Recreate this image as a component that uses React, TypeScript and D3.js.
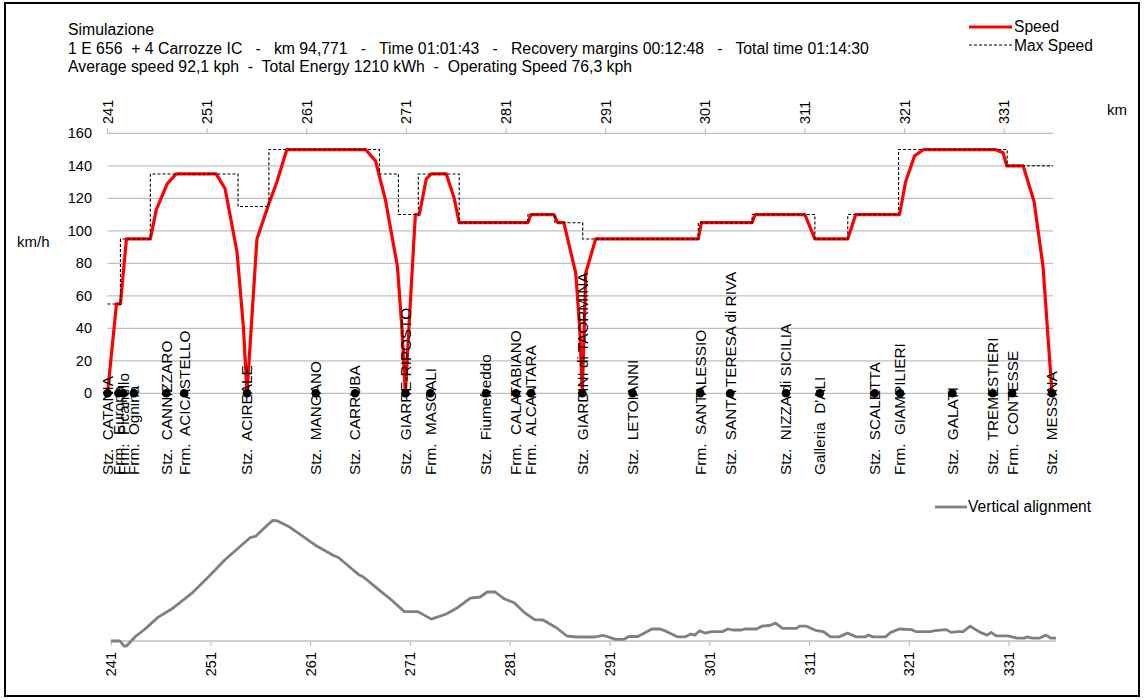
import React from "react";
import * as d3 from "d3";

// ---------- DATA ----------
const titleLines = [
  "Simulazione",
  "1 E 656  + 4 Carrozze IC   -   km 94,771   -   Time 01:01:43   -   Recovery margins 00:12:48   -   Total time 01:14:30",
  "Average speed 92,1 kph  -  Total Energy 1210 kWh  -  Operating Speed 76,3 kph",
];

const kmTicks = [241, 251, 261, 271, 281, 291, 301, 311, 321, 331];
const speedTicks = [0, 20, 40, 60, 80, 100, 120, 140, 160];

// Speed profile (km, km/h)
const speedKm = [
  241.0, 241.9, 242.3, 242.9, 245.3, 245.9, 247.0, 247.9, 251.9, 252.8, 254.0, 254.65, 255.0, 256.0,
  257.1, 258.0, 259.0, 266.9, 267.9, 268.9, 270.1, 270.55, 270.9, 271.25, 271.9, 272.3, 273.0, 273.5,
  275.0, 275.8, 276.3, 283.2, 283.5, 285.8, 286.2, 286.8, 288.0, 288.4, 288.65, 288.85, 289.0, 290.0,
  300.3, 300.6, 305.7, 306.0, 311.0, 312.0, 315.3, 316.1, 320.5, 321.1, 322.0, 322.9, 330.1, 330.9,
  331.25, 332.9, 334.0, 334.9, 335.8,
];
const speedVal = [
  0, 55, 55, 95, 95, 113, 129, 135, 135, 126, 87, 40, 0, 95,
  115, 130, 150, 150, 143, 119, 78, 40, 0, 40, 110, 110, 132, 135,
  135, 120, 105, 105, 110, 110, 105, 105, 74, 40, 0, 40, 74, 95,
  95, 105, 105, 110, 110, 95, 95, 110, 110, 130, 146, 150, 150, 148,
  140, 140, 118, 78, 0,
];

// Max speed (step changes at these km)
const maxSpeedKm = [
  241.0, 242.3, 245.3, 254.1, 257.2, 268.3, 270.2, 272.2, 276.3, 283.2, 285.9, 288.7, 300.3, 305.7,
  312.0, 315.3, 320.4, 331.3, 335.9,
];
const maxSpeedVal = [55, 95, 135, 115, 150, 135, 110, 135, 105, 110, 105, 95, 105, 110, 95, 110, 150, 140, 140];

// Stations
const stationNames = [
  "Stz.  CATANIA", "Frm.  Europa", "Frm.  Picanello", "Frm.  Ognina", "Stz.  CANNIZZARO",
  "Frm.  ACICASTELLO", "Stz.  ACIREALE", "Stz.  MANGANO", "Stz.  CARRUBA", "Stz.  GIARRE-RIPOSTO",
  "Frm.  MASCALI", "Stz.  Fiumefreddo", "Frm.  CALATABIANO", "Frm.  ALCANTARA",
  "Stz.  GIARDINI di TAORMINA", "Stz.  LETOIANNI", "Frm.  SANTALESSIO", "Stz.  SANTA TERESA di RIVA",
  "Stz.  NIZZA di SICILIA", "Galleria  D'ALI", "Stz.  SCALETTA", "Frm.  GIAMPILIERI", "Stz.  GALATI",
  "Stz.  TREMESTIERI", "Frm.  CONTESSE", "Stz.  MESSINA",
];
const stationKm = [
  241.0, 242.1, 242.6, 243.65, 246.9, 248.7, 255.0, 261.9, 265.85, 270.9, 273.4, 279.0, 282.0, 283.5,
  288.65, 293.7, 300.5, 303.5, 309.1, 312.5, 318.0, 320.55, 325.8, 329.85, 331.8, 335.8,
];

// Vertical alignment (km, relative height)
const elevKm = [
  241.0, 241.9, 242.3, 242.55, 243.5, 244.3, 245.7, 247.2, 249.05, 250.75, 252.4, 254.1, 255.0, 255.5,
  256.2, 257.2, 257.7, 258.9, 260.2, 261.4, 262.1, 263.3, 263.8, 265.0, 265.8, 266.3, 267.7, 269.05,
  270.4, 271.75, 273.1, 274.6, 275.8, 277.0, 278.0, 278.7, 279.5, 280.4, 281.4, 282.4, 283.45, 284.3,
  285.6, 286.7, 287.7, 289.5, 290.3, 290.7, 291.55, 292.4, 292.9, 293.8, 295.2, 296.0, 296.5, 297.8,
  298.5, 299.1, 299.5, 300.0, 300.5, 301.2, 302.25, 302.8, 303.3, 304.15, 304.5, 305.7, 306.2, 307.0,
  307.6, 308.3, 309.7, 310.0, 310.7, 311.7, 312.4, 313.1, 313.95, 314.8, 315.7, 316.55, 316.9, 317.4,
  318.6, 319.15, 320.0, 321.2, 321.7, 323.1, 323.6, 324.7, 325.2, 325.9, 326.4, 327.1, 328.1, 328.8,
  329.2, 329.7, 330.9, 331.8, 332.5, 332.8, 333.3, 334.0, 334.7, 335.2, 335.7,
];
const elevVal = [
  0, 0, -5, -5, 5, 11, 23.6, 32.8, 47.3, 64, 81, 96, 103.7, 104.7,
  111.5, 120.6, 120, 113.9, 104.8, 96.3, 92.3, 85.5, 83.5, 73.3, 66.6, 64, 52.4, 41.5,
  29.4, 29.4, 21.9, 27, 33.8, 42.9, 44, 49, 49, 42.2, 38.2, 28.7, 21.3, 21,
  13.5, 5, 4, 4, 5.7, 4.5, 1.7, 1.7, 4.5, 4.5, 12, 12, 10.3, 4.1,
  4.1, 6.9, 5.9, 10.3, 7.9, 9.3, 9.3, 12, 11, 11, 12, 12, 14.8, 15.5,
  17.9, 12.7, 12.7, 14.8, 14.8, 10.3, 9.3, 4.1, 4.1, 7.9, 4.1, 4.1, 5.9, 4.1,
  4.1, 8.6, 12, 11.4, 9.3, 9.3, 10.3, 11.4, 8.6, 9.3, 9.3, 14.8, 8.6, 5.9,
  8.6, 5.2, 5.2, 2.8, 2.8, 4.1, 2.8, 2.8, 5.9, 2.8, 2.8,
];

// ---------- CHART ----------
const FONT = "'Liberation Sans', Arial, sans-serif";

export default function App() {
  const W = 1144, H = 700;
  const x = d3.scaleLinear().domain([241, 335.9]).range([107.5, 1053]);
  const y = d3.scaleLinear().domain([0, 160]).range([393.3, 133.3]);
  const xb = d3.scaleLinear().domain([241, 335.7]).range([111, 1056]);
  const yb = d3.scaleLinear().domain([0, 120]).range([641, 521]);

  const speedPts: [number, number][] = speedKm.map((k, i) => [k, speedVal[i]]);
  const maxPts: [number, number][] = maxSpeedKm.map((k, i) => [k, maxSpeedVal[i]]);
  const elevPts: [number, number][] = elevKm.map((k, i) => [k, elevVal[i]]);

  const speedLine = d3.line<[number, number]>().x(d => x(d[0])).y(d => y(d[1]))(speedPts) || "";
  const maxLine = d3.line<[number, number]>().x(d => x(d[0])).y(d => y(d[1])).curve(d3.curveStepAfter)(maxPts) || "";
  const elevLine = d3.line<[number, number]>().x(d => xb(d[0])).y(d => yb(d[1]))(elevPts) || "";

  const gridColor = "#bfbfbf";

  return (
    <svg width={W} height={H} style={{ position: "absolute", left: 0, top: 0, background: "#fff" }}
      fontFamily={FONT} fontSize={14}>
      <rect x={0} y={0} width={W} height={H} fill="#fff" />
      <rect x={5} y={3} width={1134} height={693} fill="none" stroke="#000" strokeWidth={2} />

      {/* Title */}
      {titleLines.map((t, i) => (
        <text key={i} x={68} y={35 + i * 18.5} fontSize={15.8} style={{ whiteSpace: "pre" }} fill="#000">{t}</text>
      ))}

      {/* Legend top */}
      <line x1={969} x2={1012} y1={27} y2={27} stroke="#ff0000" strokeWidth={3} />
      <text x={1014} y={32} fontSize={15.6} fill="#000">Speed</text>
      <line x1={969} x2={1012} y1={45} y2={45} stroke="#000" strokeWidth={1} strokeDasharray="3,2" />
      <text x={1014} y={51} fontSize={15.6} fill="#000">Max Speed</text>

      {/* Gridlines */}
      {speedTicks.map(t => (
        <line key={t} x1={x(241)} x2={x(335.9)} y1={y(t)} y2={y(t)} stroke={gridColor} strokeWidth={1.2} />
      ))}
      {speedTicks.map(t => (
        <text key={"l" + t} x={92} y={y(t)} dy="0.35em" fontSize={14.5} textAnchor="end" fill="#000">{t}</text>
      ))}
      <text x={17} y={247} fontSize={15} fill="#000">km/h</text>

      {/* Top axis ticks */}
      {kmTicks.map(k => (
        <g key={k}>
          <line x1={x(k)} x2={x(k)} y1={y(160)} y2={y(160) - 5} stroke={gridColor} strokeWidth={1.2} />
          <text transform={`translate(${x(k)},124) rotate(-90)`} dy="0.35em" fontSize={14.5} fill="#000">{k}</text>
        </g>
      ))}
      <text x={1107} y={115} fontSize={15} fill="#000">km</text>

      {/* Speed and Max speed */}
      <path d={speedLine} fill="none" stroke="#ff0000" strokeWidth={3.2} strokeLinejoin="round" />
      <path d={maxLine} fill="none" stroke="#000" strokeWidth={1.1} strokeDasharray="3,2" />

      {/* Stations */}
      {stationKm.map((k, i) => (
        <g key={i}>
          <circle cx={x(k)} cy={y(0)} r={4.3} fill="#000" />
          <text transform={`translate(${x(k)},475) rotate(-90)`} dy="0.35em" fontSize={15.3}
            style={{ whiteSpace: "pre" }} fill="#000">
            {stationNames[i]}
          </text>
        </g>
      ))}

      {/* Bottom chart */}
      <line x1={xb(241)} x2={xb(335.7)} y1={yb(0)} y2={yb(0)} stroke={gridColor} strokeWidth={1.5} />
      {kmTicks.map(k => (
        <g key={"b" + k}>
          <line x1={xb(k)} x2={xb(k)} y1={yb(0)} y2={yb(0) + 5} stroke={gridColor} strokeWidth={1.2} />
          <text transform={`translate(${xb(k)},652) rotate(-90)`} dy="0.35em" fontSize={14.5} textAnchor="end" fill="#000">{k}</text>
        </g>
      ))}
      <path d={elevLine} fill="none" stroke="#808080" strokeWidth={2.8} strokeLinejoin="round" />

      <line x1={935} x2={967} y1={507} y2={507} stroke="#808080" strokeWidth={2.8} />
      <text x={968} y={512} fontSize={15.6} fill="#000">Vertical alignment</text>
    </svg>
  );
}
